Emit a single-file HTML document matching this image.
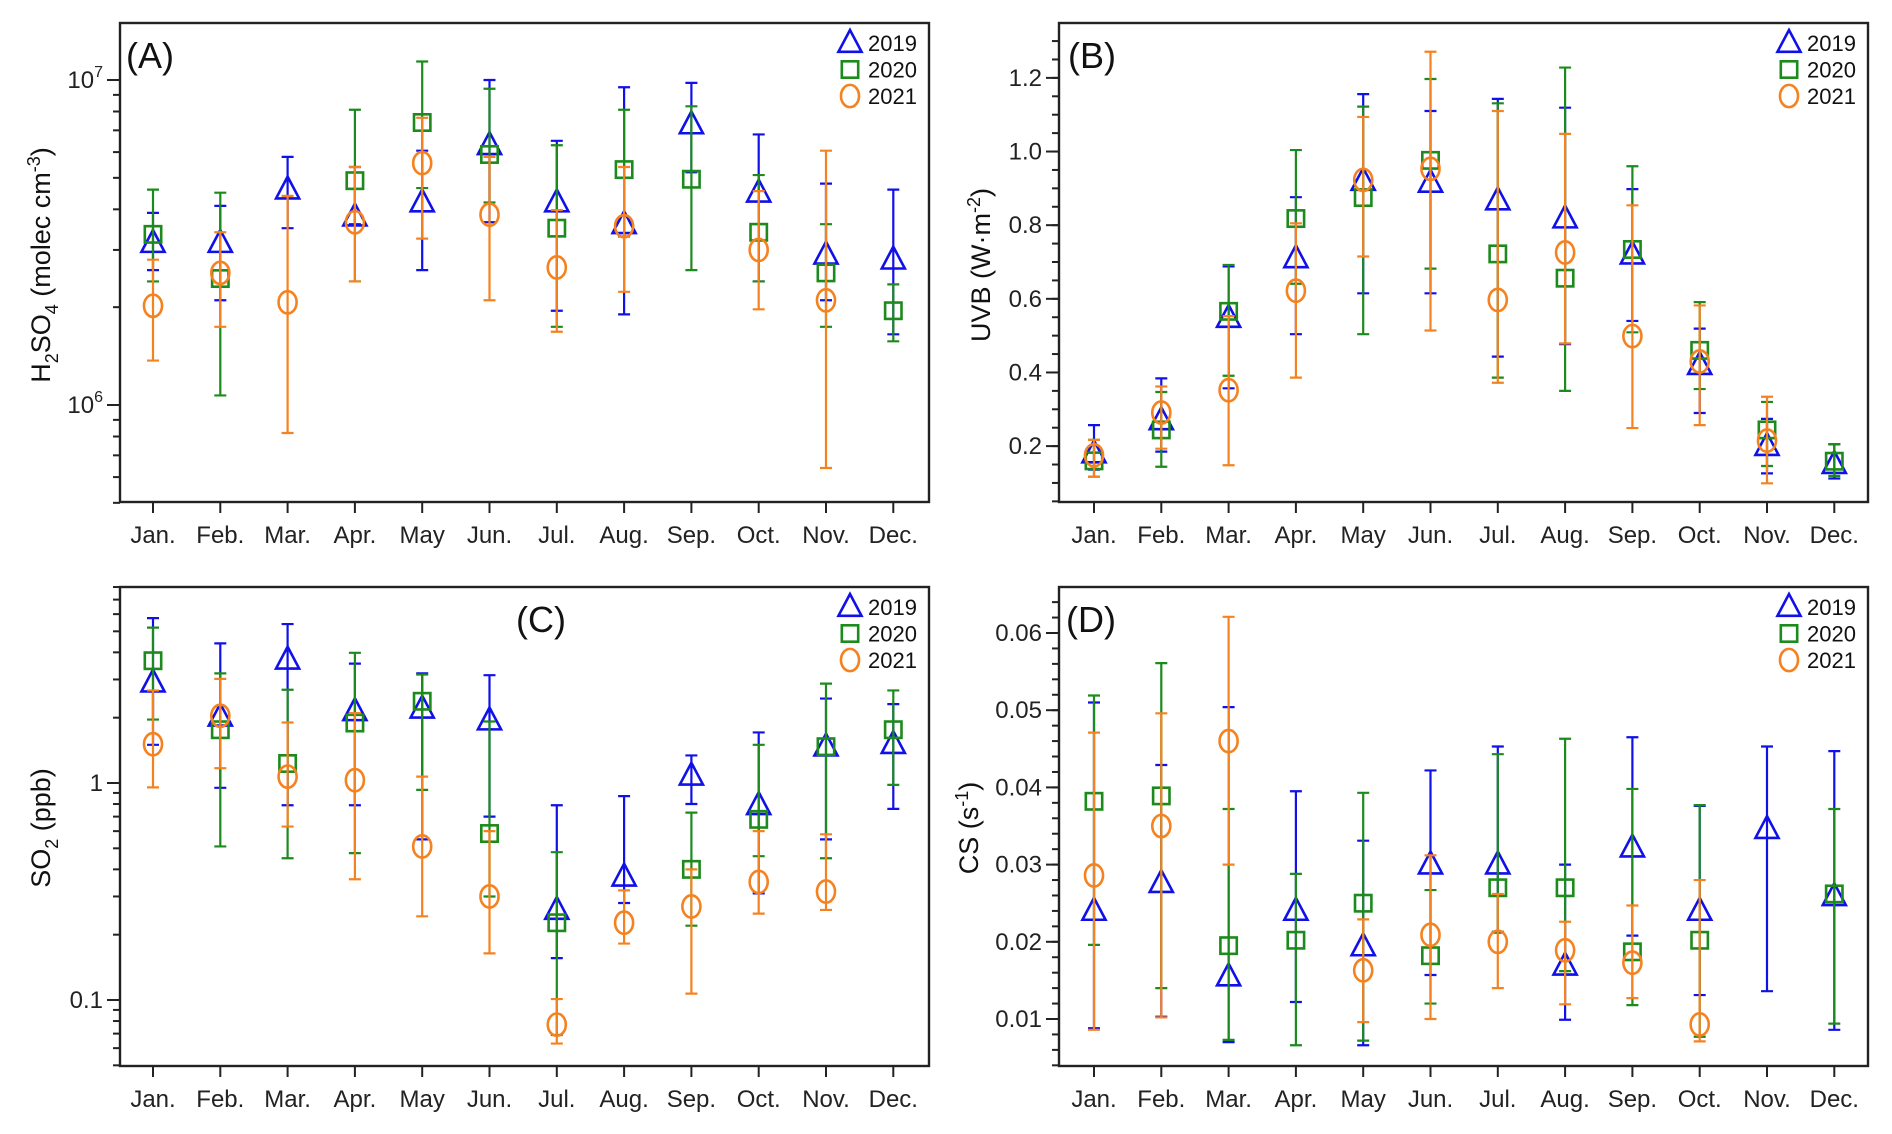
<!DOCTYPE html>
<html><head><meta charset="utf-8">
<style>
html,body{margin:0;padding:0;background:#fff;}
svg{display:block;font-family:"Liberation Sans",Arial,sans-serif;}
</style></head>
<body>
<svg id="fig" width="1892" height="1134" viewBox="0 0 1892 1134" xmlns="http://www.w3.org/2000/svg"></svg>
<script>
const months = ["Jan.","Feb.","Mar.","Apr.","May","Jun.","Jul.","Aug.","Sep.","Oct.","Nov.","Dec."];
const years = ["2019","2020","2021"];
// Panel A: H2SO4 (1e6 molec cm-3)
const a2019 = [3.15,3.15,4.6,3.8,4.2,6.3,4.2,3.6,7.3,4.5,2.9,2.8];
const a2019lo = [2.6,2.1,3.5,3.6,2.6,3.65,1.95,1.9,5.2,2.4,2.1,1.65];
const a2019hi = [3.9,4.1,5.8,5.4,6.06,10,6.5,9.5,9.8,6.8,4.8,4.6];
const a2020 = [3.35,2.45,null,4.9,7.4,5.9,3.5,5.3,4.95,3.4,2.55,1.95];
const a2020lo = [2.4,1.07,null,2.4,4.65,4.2,1.74,3.3,2.6,2.4,1.74,1.57];
const a2020hi = [4.6,4.5,null,8.1,11.4,9.4,6.3,8.1,8.3,5.1,3.6,2.35];
const a2021 = [2.02,2.55,2.07,3.65,5.55,3.85,2.65,3.55,null,3.0,2.1,null];
const a2021lo = [1.37,1.74,0.82,2.4,3.25,2.1,1.68,2.23,null,1.97,0.64,null];
const a2021hi = [2.8,3.4,4.4,5.4,7.65,5.8,3.98,5.4,null,4.55,6.06,null];
// Panel B: UVB
const b2019 = [0.18,0.27,0.548,0.71,0.92,0.915,0.867,0.818,0.72,0.42,0.20,0.151];
const b2019lo = [0.136,0.185,0.357,0.504,0.615,0.615,0.443,0.477,0.54,0.29,0.126,0.112];
const b2019hi = [0.257,0.384,0.688,0.876,1.156,1.11,1.143,1.119,0.898,0.519,0.274,0.205];
const b2020 = [0.16,0.244,0.566,0.818,0.875,0.976,0.722,0.656,0.734,0.46,0.244,0.159];
const b2020lo = [0.117,0.144,0.391,0.641,0.504,0.682,0.386,0.35,0.509,0.355,0.146,0.119];
const b2020hi = [0.217,0.347,0.692,1.004,1.122,1.197,1.131,1.228,0.96,0.591,0.32,0.205];
const b2021 = [0.175,0.291,0.352,0.622,0.923,0.953,0.597,0.726,0.499,0.43,0.215,null];
const b2021lo = [0.117,0.193,0.148,0.386,0.715,0.514,0.372,0.479,0.249,0.257,0.099,null];
const b2021hi = [0.217,0.362,0.553,0.805,1.094,1.271,1.11,1.048,0.854,0.582,0.334,null];
// Panel C: SO2 (ppb)
const c2019 = [2.9,2.02,3.7,2.14,2.2,1.94,0.26,0.37,1.08,0.79,1.47,1.51];
const c2019lo = [1.5,0.95,0.79,0.79,0.55,0.70,0.156,0.28,0.80,0.31,0.55,0.76];
const c2019hi = [5.75,4.4,5.4,3.55,3.2,3.14,0.79,0.87,1.34,1.71,2.45,2.31];
const c2020 = [3.66,1.76,1.23,1.89,2.38,0.585,0.227,null,0.40,0.68,1.47,1.76];
const c2020lo = [1.96,0.51,0.45,0.475,0.93,0.30,0.069,null,0.22,0.46,0.45,0.98];
const c2020hi = [5.2,3.2,2.69,3.98,3.16,1.92,0.48,null,0.73,1.5,2.87,2.67];
const c2021 = [1.51,2.04,1.07,1.03,0.51,0.30,0.077,0.227,0.27,0.35,0.316,null];
const c2021lo = [0.955,1.17,0.63,0.36,0.243,0.164,0.063,0.182,0.107,0.25,0.26,null];
const c2021hi = [2.67,3.02,1.9,2.1,1.07,0.60,0.101,0.32,0.40,0.60,0.58,null];
// Panel D: CS (s-1)
const d2019 = [0.024,0.0276,0.0155,0.024,0.0194,0.030,0.030,0.0169,0.0322,0.024,0.0346,0.0259];
const d2019lo = [0.0088,0.0103,0.007,0.0122,0.0066,0.0157,0.0212,0.0099,0.0208,0.0131,0.0136,0.0086];
const d2019hi = [0.051,0.0429,0.0504,0.0395,0.0331,0.0422,0.0453,0.030,0.0465,0.0376,0.0453,0.0447];
const d2020 = [0.0382,0.0389,0.0195,0.0202,0.025,0.0182,0.027,0.027,0.0187,0.0202,null,0.0262];
const d2020lo = [0.0196,0.014,0.0073,0.0066,0.0072,0.012,0.0213,0.0162,0.0118,0.0077,null,0.0094];
const d2020hi = [0.0519,0.0561,0.0372,0.0288,0.0393,0.0267,0.0443,0.0463,0.0398,0.0377,null,0.0372];
const d2021 = [0.0286,0.035,0.046,null,0.0163,0.0209,0.020,0.0189,0.0173,0.0093,null,null];
const d2021lo = [0.0086,0.0102,0.030,null,0.0096,0.010,0.014,0.0119,0.0127,0.0071,null,null];
const d2021hi = [0.0471,0.0496,0.0621,null,0.0229,0.0312,0.0262,0.0226,0.0247,0.028,null,null];

const NS="http://www.w3.org/2000/svg";
const svg=document.getElementById('fig');
const COL={"2019":"#1010e8","2020":"#1c8a1c","2021":"#f58220"};
function mk(tag,attrs,parent){const e=document.createElementNS(NS,tag);for(const k in attrs)e.setAttribute(k,attrs[k]);(parent||svg).appendChild(e);return e;}
function marker(g,yr,cx,cy,s){
  let e;
  if(yr==="2019"){const h=s*1.0,w=s*1.1;e=mk('polygon',{points:`${cx},${cy-h*0.62} ${cx-w/2},${cy+h*0.42} ${cx+w/2},${cy+h*0.42}`,fill:'none',stroke:COL[yr],'stroke-width':2.6},g);}
  else if(yr==="2020"){const w=s*0.78;e=mk('rect',{x:cx-w/2,y:cy-w/2,width:w,height:w,fill:'none',stroke:COL[yr],'stroke-width':2.6},g);}
  else {e=mk('ellipse',{cx:cx,cy:cy,rx:s*0.43,ry:s*0.53,fill:'none',stroke:COL[yr],'stroke-width':2.6},g);}
  return e;
}
function panel(p){
  const g=mk('g',{});
  
  
  const {L,R,T,B}=p;
  const xOf=i=>p.x0+i*p.dx;
  const ax=mk('g',{},g);
  
  
  p.minor.forEach(v=>{const y=p.yOf(v);if(y<T-1||y>B+1)return;mk('line',{x1:L-7,x2:L,y1:y,y2:y,stroke:'#222','stroke-width':2},ax);});
  p.major.forEach((v,k)=>{const y=p.yOf(v);mk('line',{x1:L-13,x2:L,y1:y,y2:y,stroke:'#222','stroke-width':2},ax);
    const t=mk('text',{x:L-17,y:y+8,'text-anchor':'end','font-size':24,fill:'#222'},ax);
    
    
    if(p.exp){t.textContent='10';const s=mk('tspan',{dy:-11,'font-size':16},t);s.textContent=p.exp[k];}
    else t.textContent=p.majorLabels[k];
  });
  const xa=mk('g',{},g);
  
  
  months.forEach((m,i)=>{const x=xOf(i);mk('line',{x1:x,x2:x,y1:B,y2:B+11,stroke:'#222','stroke-width':2},xa);
    const t=mk('text',{x:x,y:B+41,'text-anchor':'middle','font-size':24,fill:'#222'},xa);t.textContent=m;
    
    });
  p.series.forEach(sr=>{
    const sg=mk('g',{},g);
    
    
    sr.v.forEach((v,i)=>{
      if(v==null)return;
      const x=xOf(i),yl=p.yOf(sr.lo[i]),yh=p.yOf(sr.hi[i]),y=p.yOf(v);
      const eb=mk('path',{d:`M${x},${yl}V${yh}M${x-6},${yl}H${x+6}M${x-6},${yh}H${x+6}`,stroke:COL[sr.yr],'stroke-width':2.2,fill:'none'},sg);
      
      
      const mm=marker(sg,sr.yr,x,y,21);
      
      
    });
  });
  const fr=mk('rect',{x:L,y:T,width:R-L,height:B-T,fill:'none',stroke:'#222','stroke-width':2.4},g);
  
  
  const pl=mk('text',{x:p.lx,y:p.ly,'font-size':36,fill:'#111','text-anchor':p.la||'start'},g);pl.textContent=p.label;
  
  
  const lg=mk('g',{},g);
  
  
  years.forEach((yr,k)=>{const cy=T+20+k*26.5;
    const le=mk('g',{},lg);
    
    
    marker(le,yr,R-79,cy,21);
    const t=mk('text',{x:R-61,y:cy+8,'font-size':22,fill:'#111'},le);t.textContent=yr;});
  const yt=mk('text',{x:0,y:0,'font-size':27,fill:'#111','text-anchor':'middle',transform:`translate(${p.tx},${p.ty}) rotate(-90)`},g);
  
  
  p.title(yt);
}
function logY(T,B,topL,botL){return v=>T+(topL-Math.log10(v))/(topL-botL)*(B-T);}
function linY(T,B,top,bot){return v=>T+(top-v)/(top-bot)*(B-T);}
function logMinor(lo,hi){const r=[];for(let e=lo;e<=hi;e++)for(let m=2;m<=9;m++)r.push(m*Math.pow(10,e));return r;}
function ts(t,txt,dy,fs){const s=mk('tspan',{dy:dy,'font-size':fs},t);s.textContent=txt;return s;}

panel({name:'panel-a-h2so4',L:120,R:929,T:23,B:502,x0:153,dx:67.3,
  yOf:(()=>{const f=logY(23,502,7+57/325,6-97/325);return v=>f(v*1e6);})(),
  major:[10,1],exp:['7','6'],minor:logMinor(-1,1).map(v=>v),
  series:[{yr:'2019',v:a2019,lo:a2019lo,hi:a2019hi},{yr:'2020',v:a2020,lo:a2020lo,hi:a2020hi},{yr:'2021',v:a2021,lo:a2021lo,hi:a2021hi}],
  label:'(A)',lx:126,ly:68,tx:50,ty:265,
  title:t=>{t.textContent='H';ts(t,'2',8,18);ts(t,'SO',-8,27);ts(t,'4',8,18);ts(t,' (molec cm',-8,27);ts(t,'-3',-10,18);ts(t,')',10,27);}});
const bMinor=[];for(let v=0.05;v<=1.35;v+=0.05)bMinor.push(+v.toFixed(2));
panel({name:'panel-b-uvb',L:1059,R:1868,T:23,B:502,x0:1094,dx:67.3,
  yOf:linY(23,502,1.2+55/369,0.2-56/369),
  major:[0.2,0.4,0.6,0.8,1.0,1.2],majorLabels:['0.2','0.4','0.6','0.8','1.0','1.2'],minor:bMinor,
  series:[{yr:'2019',v:b2019,lo:b2019lo,hi:b2019hi},{yr:'2020',v:b2020,lo:b2020lo,hi:b2020hi},{yr:'2021',v:b2021,lo:b2021lo,hi:b2021hi}],
  label:'(B)',lx:1068,ly:68,tx:990,ty:265,
  title:t=>{t.textContent='UVB (W·m';ts(t,'-2',-10,18);ts(t,')',10,27);}});
panel({name:'panel-c-so2',L:120,R:929,T:587,B:1066,x0:153,dx:67.3,
  yOf:logY(587,1066,196/217,-1-66/217),
  major:[1,0.1],majorLabels:['1','0.1'],minor:logMinor(-2,0),
  series:[{yr:'2019',v:c2019,lo:c2019lo,hi:c2019hi},{yr:'2020',v:c2020,lo:c2020lo,hi:c2020hi},{yr:'2021',v:c2021,lo:c2021lo,hi:c2021hi}],
  label:'(C)',lx:541,ly:632,la:'middle',tx:50,ty:828,
  title:t=>{t.textContent='SO';ts(t,'2',8,18);ts(t,' (ppb)',-8,27);}});
const dMinor=[];for(let v=0.004;v<=0.066;v+=0.002)dMinor.push(+v.toFixed(3));
panel({name:'panel-d-cs',L:1059,R:1868,T:587,B:1066,x0:1094,dx:67.3,
  yOf:linY(587,1066,0.06+46/7720,0.01-47/7720),
  major:[0.01,0.02,0.03,0.04,0.05,0.06],majorLabels:['0.01','0.02','0.03','0.04','0.05','0.06'],minor:dMinor,
  series:[{yr:'2019',v:d2019,lo:d2019lo,hi:d2019hi},{yr:'2020',v:d2020,lo:d2020lo,hi:d2020hi},{yr:'2021',v:d2021,lo:d2021lo,hi:d2021hi}],
  label:'(D)',lx:1066,ly:632,tx:978,ty:828,
  title:t=>{t.textContent='CS (s';ts(t,'-1',-10,18);ts(t,')',10,27);}});
</script>
</body></html>
